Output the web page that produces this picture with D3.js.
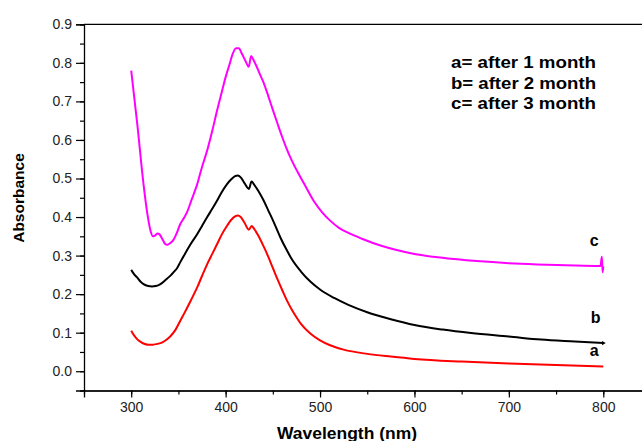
<!DOCTYPE html>
<html><head><meta charset="utf-8">
<script src="https://cdn.jsdelivr.net/npm/d3@7"></script>
<style>body{margin:0;background:#fff}svg{display:block}text{font-family:"Liberation Sans",Arial,sans-serif}</style>
</head><body><svg id="c" width="642" height="441"></svg>
<script>
// Data (wavelength nm, absorbance)
const seriesA_w = [300,303,306,310,313,318,323,328,333,338,342,347,352,357,363,370,375,380.5,386,391,396,401.7,406,410,413,416,420,424.6,427.5,430,435,440,445,450,455,460,465,470,475,480,490,500,510,525,550,575,600,650,700,750,800];
const seriesA_v = [0.105,0.093,0.084,0.076,0.072,0.069,0.069,0.071,0.075,0.083,0.092,0.108,0.131,0.154,0.183,0.218,0.247,0.278,0.305,0.33,0.355,0.378,0.393,0.402,0.404,0.40,0.385,0.367,0.377,0.37,0.35,0.325,0.298,0.268,0.238,0.21,0.183,0.16,0.14,0.122,0.097,0.08,0.068,0.056,0.045,0.038,0.032,0.025,0.02,0.016,0.012];
const seriesB_w = [300,303,306,310,313,318,322,326,331,336,341.6,345,348.7,352,357,363,370,375,380.5,386,391,396,401.7,406,410,413,416,420,424.6,427.5,430,435,440,445,450,458,465,470,480,490,500,515,530,550,575,600,630,660,700,734,770,800];
const seriesB_v = [0.263,0.252,0.244,0.232,0.226,0.221,0.220,0.221,0.226,0.236,0.248,0.257,0.268,0.283,0.305,0.33,0.356,0.377,0.40,0.422,0.443,0.465,0.486,0.498,0.506,0.508,0.503,0.488,0.473,0.492,0.485,0.466,0.444,0.418,0.392,0.347,0.313,0.291,0.258,0.232,0.212,0.19,0.172,0.153,0.135,0.120,0.108,0.099,0.090,0.082,0.077,0.073];
const seriesC_w = [300,306.5,313,317,320.5,323,325,328,330,333,336,338,341,344,348,352,356,359,364,370,375,380.5,386,391,396,400,404,407,411,414,417,421,424.5,427,429,432,436,440,445,450,455,460,465,470,476,485,493,502,511,520,529,545,564,580,600,620,642,670,700,730,760,797,798.5,799.3,800];
const seriesC_v = [0.78,0.64,0.486,0.41,0.364,0.35,0.352,0.357,0.355,0.343,0.330,0.328,0.332,0.338,0.357,0.382,0.398,0.412,0.445,0.486,0.53,0.573,0.625,0.677,0.725,0.763,0.795,0.82,0.838,0.838,0.825,0.805,0.79,0.818,0.81,0.795,0.772,0.75,0.715,0.678,0.642,0.607,0.575,0.547,0.518,0.478,0.443,0.413,0.39,0.372,0.36,0.343,0.326,0.315,0.304,0.297,0.291,0.285,0.28,0.277,0.275,0.273,0.297,0.257,0.272];
const seriesColors = ["#ff0000","#000000","#ff00ff"];
const curveLabels = ["a","b","c"];
const legendLines = ["a= after 1 month","b= after 2 month","c= after 3 month"];
const xTicks = [300,400,500,600,700,800];
const yTicks = [0.0,0.1,0.2,0.3,0.4,0.5,0.6,0.7,0.8,0.9];
const xTitle = "Wavelength (nm)";
const yTitle = "Absorbance";

const svg = d3.select("#c");
const x = d3.scaleLinear().domain([250,850]).range([84,650.5]);
const y = d3.scaleLinear().domain([-0.05,0.9]).range([390.5,24.3]);

// top frame line
svg.append("line").attr("x1",84).attr("x2",650).attr("y1",y(0.9)).attr("y2",y(0.9)).attr("stroke","#000").attr("stroke-width",1.3);

// x axis
const gx = svg.append("g").attr("transform",`translate(0,${y(-0.05)})`);
gx.call(d3.axisBottom(x).tickValues(d3.range(250,851,50)).tickSize(4).tickFormat(""));
gx.call(g=>g.selectAll(".tick line").attr("stroke-width",1.2));
const gx2 = svg.append("g").attr("transform",`translate(0,${y(-0.05)})`);
gx2.call(d3.axisBottom(x).tickValues(xTicks).tickSize(7).tickPadding(5).tickFormat(d3.format("d")));
gx2.select(".domain").attr("stroke-width",1.3);
gx2.selectAll("text").attr("font-size",14).attr("fill","#222");
gx2.selectAll(".tick line").attr("stroke-width",1.2);

// y axis
const gy = svg.append("g").attr("transform",`translate(${x(250)},0)`);
gy.call(d3.axisLeft(y).tickValues(d3.range(-0.05,0.91,0.05)).tickSize(4).tickFormat(""));
gy.selectAll(".tick line").attr("stroke-width",1.2);
const gy2 = svg.append("g").attr("transform",`translate(${x(250)},0)`);
gy2.call(d3.axisLeft(y).tickValues(yTicks).tickSize(8).tickPadding(4).tickFormat(d3.format(".1f")));
gy2.select(".domain").attr("stroke-width",1.3);
gy2.selectAll("text").attr("font-size",14).attr("fill","#222");
gy2.selectAll(".tick line").attr("stroke-width",1.2);

// titles
svg.append("text").attr("x",347).attr("y",439).attr("text-anchor","middle").attr("font-size",16).attr("font-weight","bold")
  .attr("textLength",140).attr("lengthAdjust","spacingAndGlyphs").text(xTitle);
svg.append("text").attr("transform","translate(24,198) rotate(-90)").attr("text-anchor","middle").attr("font-size",15.5).attr("font-weight","bold").text(yTitle);

// curves
const line = d3.line().x(d=>x(d[0])).y(d=>y(d[1])).curve(d3.curveMonotoneX);
const all = [[seriesA_w,seriesA_v],[seriesB_w,seriesB_v],[seriesC_w,seriesC_v]];
all.forEach((s,i)=>{
  const pts = s[0].map((w,j)=>[w,s[1][j]]);
  svg.append("path").datum(pts).attr("d",line).attr("fill","none").attr("stroke",seriesColors[i]).attr("stroke-width",2);
});
// end marker on b
svg.append("path").attr("d",d3.symbol(d3.symbolTriangle,8)()).attr("transform",`translate(${x(800)},${y(seriesB_v[seriesB_v.length-1])}) rotate(90)`).attr("fill","#000");

// curve labels
const labelPos = [[795,0.04],[797,0.125],[795,0.325]];
curveLabels.forEach((t,i)=>{
  svg.append("text").attr("x",x(labelPos[i][0])).attr("y",y(labelPos[i][1])).attr("text-anchor","end").attr("font-size",16).attr("font-weight","bold").text(t);
});

// legend text
legendLines.forEach((t,i)=>{
  svg.append("text").attr("x",451).attr("y",68+i*20.7).attr("font-size",16.5).attr("font-weight","bold")
    .attr("textLength",145).attr("lengthAdjust","spacingAndGlyphs").text(t);
});
</script></body></html>
